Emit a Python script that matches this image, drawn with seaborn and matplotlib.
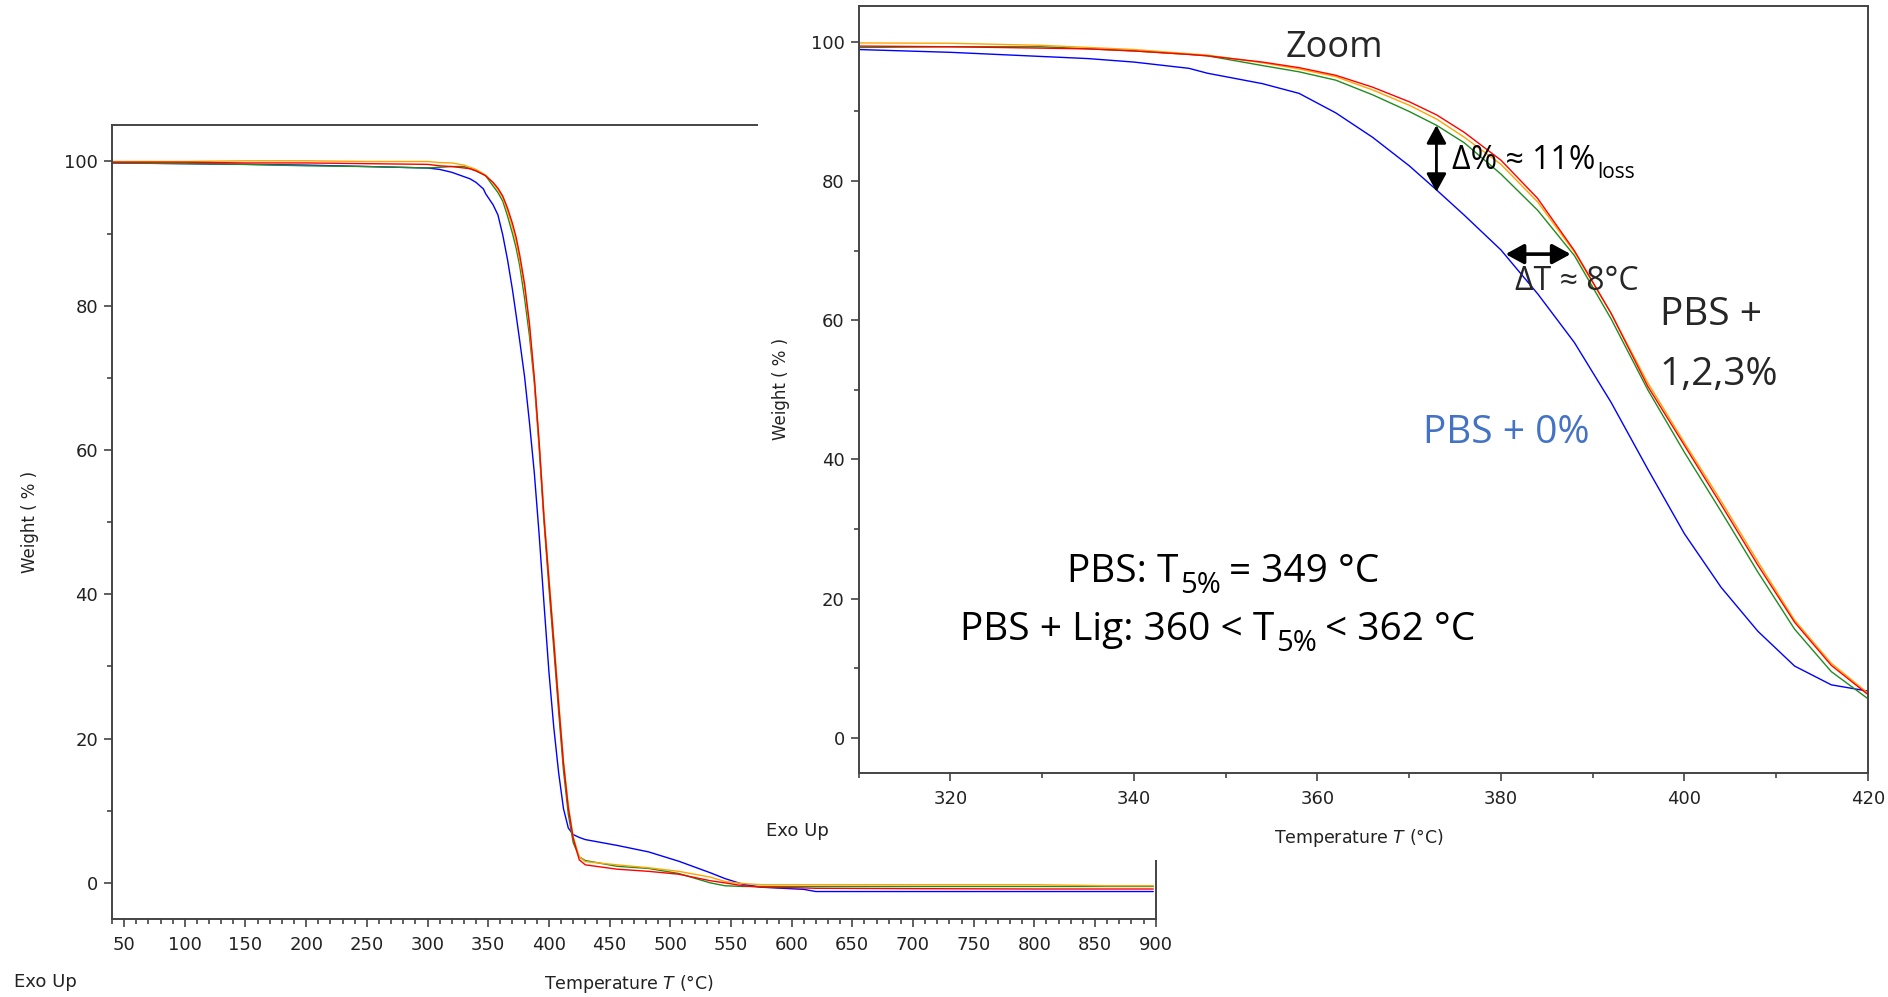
import pandas as pd
import matplotlib.pyplot as plt
import seaborn as sns
from matplotlib.patches import Rectangle
from matplotlib.ticker import MultipleLocator

sns.set_style("ticks")
plt.rcParams['font.family'] = ['DejaVu Sans']

# TGA curves, weight (%) vs temperature (degC)
temp = [40, 100, 150, 200, 250, 300,
        310, 320, 330, 335, 340, 346, 348, 354, 358, 362, 366, 370, 373, 376,
        380, 384, 388, 392, 396, 400, 404, 408, 412, 416, 420,
        425, 430, 456, 482, 507, 533, 545, 560, 575, 610, 620, 700, 800, 860, 898]
pbs_0 = [99.8, 99.7, 99.6, 99.5, 99.3, 99.1,
         98.9, 98.5, 97.9, 97.6, 97.1, 96.2, 95.5, 94.0, 92.6, 89.8, 86.3, 82.2,
         78.7, 75.1, 70.1, 63.8, 56.8, 48.2, 38.6, 29.3, 21.6, 15.3, 10.3, 7.6, 6.7,
         6.3, 6.0, 5.2, 4.3, 3.0, 1.4, 0.6, -0.2, -0.6, -0.9, -1.2, -1.2, -1.2, -1.2, -1.2]
pbs_1 = [99.8, 99.7, 99.6, 99.4, 99.3, 99.1,
         99.2, 99.3, 99.3, 99.0, 98.7, 98.2, 98.0, 96.6, 95.7, 94.5, 92.4, 90.0,
         88.0, 85.5, 81.0, 75.8, 69.3, 60.2, 50.0, 41.0, 32.5, 23.8, 15.6, 9.5, 5.6,
         3.6, 3.1, 2.3, 2.0, 1.3, 0.0, -0.4, -0.5, -0.5, -0.5, -0.5, -0.5, -0.5, -0.5, -0.5]
pbs_2 = [100.0, 100.0, 100.1, 100.1, 100.0, 100.0,
         99.85, 99.8, 99.5, 99.2, 98.9, 98.3, 98.1, 97.0, 96.1, 95.0, 93.1, 90.9,
         88.9, 86.3, 82.4, 77.0, 69.8, 61.0, 51.0, 42.4, 34.0, 25.3, 16.9, 10.7, 6.4,
         3.6, 2.95, 2.5, 2.1, 1.6, 0.8, 0.2, -0.1, -0.25, -0.25, -0.25, -0.25, -0.25, -0.4, -0.4]
pbs_3 = [99.9, 99.9, 99.8, 99.8, 99.7, 99.6,
         99.4, 99.3, 99.1, 99.0, 98.7, 98.2, 98.0, 97.1, 96.3, 95.2, 93.5, 91.4,
         89.5, 87.0, 83.0, 77.5, 70.0, 61.0, 50.5, 42.0, 33.5, 24.8, 16.6, 10.4, 6.2,
         3.2, 2.5, 1.9, 1.6, 1.2, 0.3, 0.0, -0.4, -0.6, -0.7, -0.75, -0.8, -0.85, -0.85, -0.85]

samples = ["PBS + 0%", "PBS + 1%", "PBS + 2%", "PBS + 3%"]
colors = ["#0000FF", "#1E8C1E", "#FFA500", "#FF0000"]

frames = []
for name, vals in zip(samples, [pbs_0, pbs_1, pbs_2, pbs_3]):
    frames.append(pd.DataFrame({"T": temp, "w": vals, "sample": name}))
df = pd.concat(frames, ignore_index=True)
palette = dict(zip(samples, colors))

W, H = 1888, 997
fig = plt.figure(figsize=(W / 100, H / 100), dpi=100)
spine_col = "#444444"
ann_font = ["Open Sans", "DejaVu Sans"]


def style_axes(ax):
    for s in ax.spines.values():
        s.set_visible(True)
        s.set_color(spine_col)
        s.set_linewidth(1.4)
    ax.tick_params(which="both", direction="out", color=spine_col, width=1.2,
                   labelsize=13, labelcolor="#222222", pad=4)
    ax.tick_params(which="major", length=6)
    ax.tick_params(which="minor", length=3.5)
    ax.tick_params(axis="x", pad=6)


def draw_curves(ax):
    sns.lineplot(data=df, x="T", y="w", hue="sample", palette=palette,
                 estimator=None, sort=False, linewidth=1, legend=False, ax=ax)


# full range plot
ax_full = fig.add_axes([112 / W, 1 - 919.3 / H, (1155.7 - 112) / W, (919.3 - 124.7) / H])
draw_curves(ax_full)
ax_full.set_xlim(40, 900)
ax_full.set_ylim(-5.05, 105.1)
ax_full.xaxis.set_major_locator(MultipleLocator(50))
ax_full.xaxis.set_minor_locator(MultipleLocator(10))
ax_full.yaxis.set_major_locator(MultipleLocator(20))
ax_full.yaxis.set_minor_locator(MultipleLocator(10))
style_axes(ax_full)
ax_full.set_xlabel(r"Temperature $T$ (°C)", fontsize=12.5, color="#222222")
ax_full.set_ylabel("Weight ( % )", fontsize=12, color="#222222")
ax_full.xaxis.set_label_coords(0.495, -0.0676)
ax_full.yaxis.set_label_coords(-0.070, 0.5)
fig.text(14 / W, 1 - 986.7 / H, "Exo Up", fontsize=13, color="#222222", va="baseline")

# pasted zoom: white sheet over the upper right of the full plot
fig.patches.append(Rectangle((757.7 / W, 1 - 860 / H), 1 - 757.7 / W, 860 / H,
                             transform=fig.transFigure, facecolor="white",
                             edgecolor="none", zorder=1))

ax_zoom = fig.add_axes([858.6 / W, 1 - 773 / H, (1868 - 858.6) / W, (773 - 5.7) / H])
ax_zoom.set_zorder(2)
draw_curves(ax_zoom)
ax_zoom.set_xlim(310, 420)
ax_zoom.set_ylim(-5.07, 105.2)
ax_zoom.xaxis.set_major_locator(MultipleLocator(20))
ax_zoom.xaxis.set_minor_locator(MultipleLocator(10))
ax_zoom.yaxis.set_major_locator(MultipleLocator(20))
ax_zoom.yaxis.set_minor_locator(MultipleLocator(10))
style_axes(ax_zoom)
ax_zoom.set_xlabel(r"Temperature $T$ (°C)", fontsize=12.5, color="#222222")
ax_zoom.set_ylabel("Weight ( % )", fontsize=12, color="#222222")
ax_zoom.xaxis.set_label_coords(0.496, -0.070)
ax_zoom.yaxis.set_label_coords(-0.068, 0.5)
t_exo = fig.text(766 / W, 1 - 836 / H, "Exo Up", fontsize=13, color="#222222", va="baseline")
t_exo.set_zorder(3)

# annotations on the zoom
ax_zoom.text(361.8, 97.85, "Zoom", fontsize=26, family=ann_font, ha="center", va="baseline")


def sub_text(ax, x, y, main, sub, rest, size, subsize, sub_dy, color="black"):
    t1 = ax.text(x, y, main, fontsize=size, family=ann_font, color=color,
                 ha="left", va="baseline")
    t2 = ax.annotate(sub, xy=(1, 0), xycoords=t1, xytext=(2, sub_dy),
                     textcoords="offset pixels", fontsize=subsize, family=ann_font,
                     color=color, ha="left", va="baseline")
    if rest:
        ax.annotate(rest, xy=(1, 0), xycoords=(t2, t1), xytext=(8, 0),
                    textcoords="offset pixels", fontsize=size, family=ann_font,
                    color=color, ha="left", va="bottom")


sub_text(ax_zoom, 374.7, 81.8, "Δ% ≈ 11%", "loss", None, 23, 15, -1)
ax_zoom.text(381.5, 64.3, "ΔT ≈ 8°C", fontsize=23, family=ann_font, ha="left", va="baseline")
ax_zoom.text(397.3, 59.3, "PBS +", fontsize=28, family=ann_font, ha="left", va="baseline")
ax_zoom.text(397.3, 50.7, "1,2,3%", fontsize=28, family=ann_font, ha="left", va="baseline")
ax_zoom.text(371.5, 42.4, "PBS + 0%", fontsize=28, family=ann_font, color="#4472C4",
             ha="left", va="baseline")
sub_text(ax_zoom, 332.7, 22.4, "PBS: T", "5%", "= 349 °C", 28, 21, -2)
sub_text(ax_zoom, 321.0, 14.1, "PBS + Lig: 360 < T", "5%", "< 362 °C", 28, 21, -2)

arrow = dict(arrowstyle="<|-|>,head_length=0.55,head_width=0.3", color="black",
             lw=2, shrinkA=0, shrinkB=0, mutation_scale=20)
ax_zoom.annotate("", xy=(372.97, 78.45), xytext=(372.97, 88.03), arrowprops=arrow)
ax_zoom.annotate("", xy=(380.5, 69.5), xytext=(387.6, 69.5),
                 arrowprops=dict(arrow, lw=2.6))

fig.savefig("out.png", dpi=100)
